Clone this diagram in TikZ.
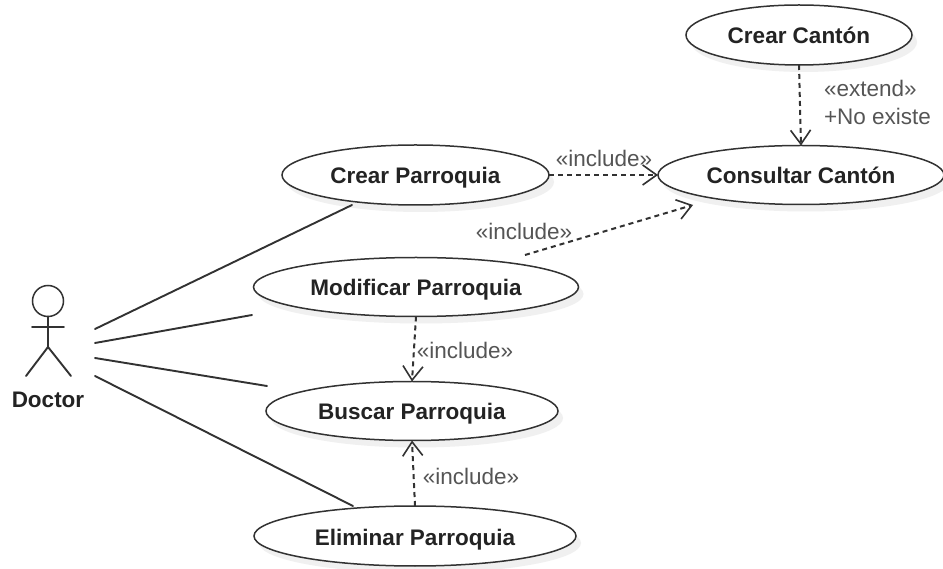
\documentclass[tikz,border=0pt]{standalone}
\usepackage{fontspec}
\setmainfont{Liberation Sans}
\usetikzlibrary{arrows.meta,shapes.geometric,shadows}
\tikzset{
  usecase/.style={ellipse,draw=drawColor,line width=1.5pt,fill=white,inner sep=0pt,outer sep=0pt,
    text=textColor,text height=18pt,text depth=0pt,font=\bfseries\fontsize{22.5}{27}\selectfont,
    drop shadow={shadow xshift=5pt,shadow yshift=-7pt,fill=shadowColor,opacity=1}},
  assoc/.style={draw=drawColor,line width=1.9pt,line cap=round},
  depend/.style={draw=drawColor,line width=2pt,dash pattern=on 5pt off 4pt,
    -{Straight Barb[length=14pt,width=20pt,line width=1.6pt]}},
  stereo/.style={text=labelColor,anchor=base,inner sep=0pt,outer sep=0pt,font=\fontsize{22.5}{27}\selectfont}
}
\begin{document}
\begin{tikzpicture}[x=1pt,y=1pt]
\definecolor{drawColor}{RGB}{50,50,50}
\definecolor{textColor}{RGB}{35,35,35}
\definecolor{labelColor}{RGB}{85,85,85}
\definecolor{shadowColor}{RGB}{240,240,240}
\path[use as bounding box,fill=white] (0,0) rectangle (943,568);

% use cases
\node[usecase,minimum width=226pt,minimum height=60pt] (crearcanton) at (799,533) {Crear Cantón};
\node[usecase,minimum width=286pt,minimum height=59pt] (consultar) at (801,393) {Consultar Cantón};
\node[usecase,minimum width=267pt,minimum height=60pt] (crearparroquia) at (415.5,393) {Crear Parroquia};
\node[usecase,minimum width=325pt,minimum height=59pt] (modificar) at (416,281) {Modificar Parroquia};
\node[usecase,minimum width=292pt,minimum height=59pt] (buscar) at (412,157) {Buscar Parroquia};
\node[usecase,minimum width=322pt,minimum height=60pt] (eliminar) at (415,32) {Eliminar Parroquia};

% actor
\node[circle,draw=drawColor,line width=1.5pt,minimum size=31pt,inner sep=0pt,outer sep=0pt] (head) at (48,267) {};
\coordinate (hip) at (48,221);
\coordinate (armL) at (32,241);
\coordinate (armR) at (64,241);
\coordinate (footL) at (26,192);
\coordinate (footR) at (71,192);
\path[assoc] (head.south) -- (hip);
\path[assoc] (armL) -- (armR);
\path[assoc] (footL) -- (hip) -- (footR);
\node[text=textColor,anchor=base,inner sep=0pt,outer sep=0pt,font=\bfseries\fontsize{22.5}{27}\selectfont] (doctor) at (48,160) {Doctor};

% associations
\coordinate (a1) at (95,239);
\coordinate (a2) at (95,225);
\coordinate (a3) at (95,210);
\coordinate (a4) at (95,192);
\coordinate (e1) at (352,363);
\coordinate (e2) at (252,253);
\coordinate (e3) at (267,182);
\coordinate (e4) at (353,62);
\path[assoc] (a1) -- (e1);
\path[assoc] (a2) -- (e2);
\path[assoc] (a3) -- (e3);
\path[assoc] (a4) -- (e4);

% dependencies
\coordinate (m1) at (525,313);
\coordinate (m2) at (693,363);
\path[depend] (crearcanton.south) -- (consultar.north);
\path[depend] (crearparroquia.east) -- (consultar.west);
\path[depend] (m1) -- (m2);
\path[depend] (modificar.south) -- (buscar.north);
\path[depend] (eliminar.north) -- (buscar.south);

% labels
\node[stereo] (l1) at (604,401) {«include»};
\node[stereo] (l2) at (524,328) {«include»};
\node[stereo] (l3) at (465,209) {«include»};
\node[stereo] (l4) at (471,83) {«include»};
\node[stereo,anchor=base west] (l5) at (824,471) {«extend»};
\node[stereo,anchor=base west] (l6) at (824,443) {+No existe};
\end{tikzpicture}
\end{document}
